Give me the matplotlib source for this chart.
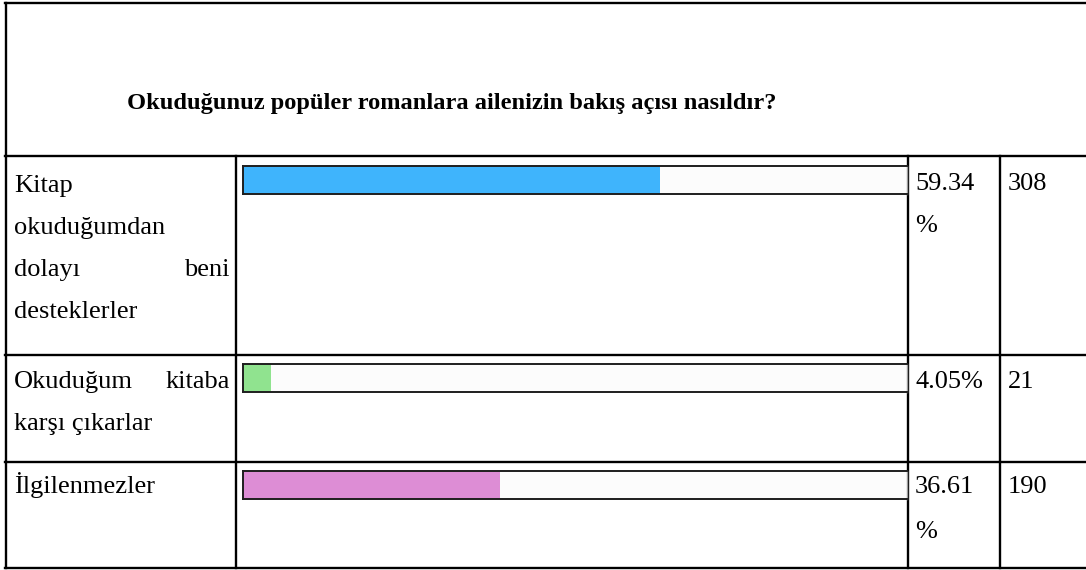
import matplotlib.pyplot as plt

plt.rcParams['font.family'] = ['Liberation Serif', 'DejaVu Serif']

title = "Okuduğunuz popüler romanlara ailenizin bakış açısı nasıldır?"
answers = ["Kitap okuduğumdan dolayı beni desteklerler",
           "Okuduğum kitaba karşı çıkarlar",
           "İlgilenmezler"]
percents = [59.34, 4.05, 36.61]
counts = [308, 21, 190]
colors = ["#3fb4fc", "#90e38f", "#dd8dd5"]

# label lines as they wrap in the narrow first column (justified)
label_lines = [
    [["Kitap"], ["okuduğumdan"], ["dolayı", "beni"], ["desteklerler"]],
    [["Okuduğum", "kitaba"], ["karşı çıkarlar"]],
    [["İlgilenmezler"]],
]
pct_lines = [["59.34", "%"], ["4.05%"], ["36.61", "%"]]

W, H = 1086, 570
fig = plt.figure(figsize=(W / 100, H / 100), dpi=100)
ax = fig.add_axes([0, 0, 1, 1])
ax.set_xlim(0, W)
ax.set_ylim(H, 0)
ax.axis('off')

lw = 1.7
# table grid (pixel layout)
row_tops = [156, 355, 462]
bottom = 568
col_x = [236, 908, 1000]
ax.plot([5, W + 5], [3, 3], color='black', lw=lw)
ax.plot([5.5, 5.5], [3, bottom], color='black', lw=lw)
ax.plot([5, W + 5], [bottom, bottom], color='black', lw=lw)
for y in row_tops:
    ax.plot([5, W + 5], [y, y], color='black', lw=lw)
for x in col_x:
    ax.plot([x, x], [row_tops[0], bottom], color='black', lw=lw)

ax.text(452, 103, title, ha='center', va='center', fontsize=17.6, fontweight='bold')

fs = 19
base_lines = [[192, 234, 276, 318], [388, 430], [493]]
pct_base = [[190, 232], [388], [493, 538]]
for i in range(3):
    for words, yb in zip(label_lines[i], base_lines[i]):
        if len(words) == 2:
            ax.text(14, yb, words[0], ha='left', va='baseline', fontsize=fs)
            ax.text(230, yb, words[1], ha='right', va='baseline', fontsize=fs)
        else:
            ax.text(14, yb, words[0], ha='left', va='baseline', fontsize=fs)
    for t, yb in zip(pct_lines[i], pct_base[i]):
        ax.text(915, yb, t, ha='left', va='baseline', fontsize=fs)
    ax.text(1008, base_lines[i][0] if i != 0 else 190, str(counts[i]),
            ha='left', va='baseline', fontsize=fs)

# progress bars
bar_tops = [166, 364, 471]
bar_h = 28
bx0, bx1 = 243, 907
for i in range(3):
    bax = fig.add_axes([bx0 / W, 1 - (bar_tops[i] + bar_h) / H,
                        (bx1 - bx0) / W, bar_h / H])
    bax.set_facecolor('#fcfcfc')
    bax.barh(0, percents[i], height=1, color=colors[i])
    bax.set_xlim(0, 94.6)
    bax.set_ylim(-0.5, 0.5)
    bax.set_xticks([])
    bax.set_yticks([])
    for s in ['top', 'bottom', 'left']:
        bax.spines[s].set_color('#1e1e1e')
        bax.spines[s].set_linewidth(1.4)
    bax.spines['right'].set_color('#9a9a9a')
    bax.spines['right'].set_linewidth(1.0)

fig.savefig('out.png', dpi=100)
